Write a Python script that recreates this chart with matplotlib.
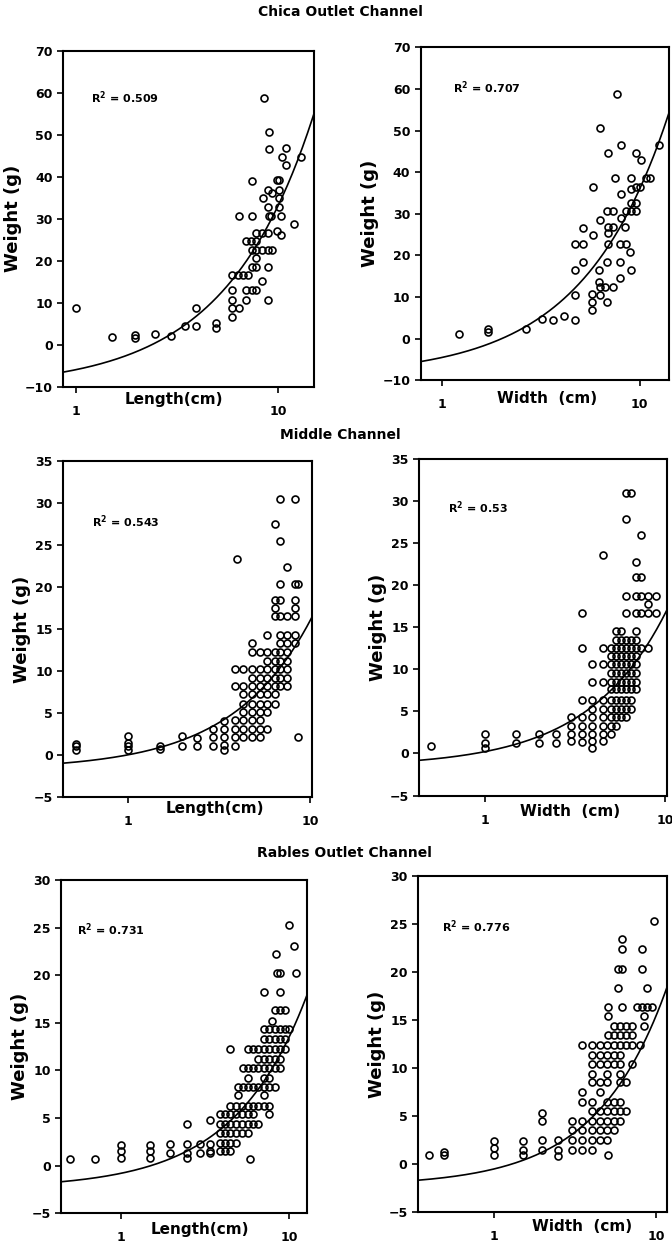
import numpy as np
import matplotlib
matplotlib.use('Agg')
import matplotlib.pyplot as plt
from matplotlib.ticker import NullLocator
from matplotlib import font_manager

#Prefer a narrow bold face, like the scanned figure
names = set(f.name for f in font_manager.fontManager.ttflist)
narrow = [n for n in ['Liberation Sans Narrow', 'DejaVu Sans Condensed'] if n in names]
plt.rcParams['font.family'] = narrow + ['DejaVu Sans']
plt.rcParams['font.weight'] = 'bold'
big = 1.0 if not narrow else 1.12

#Panel titles and labels
row_titles = ['Chica Outlet Channel', 'Middle Channel', 'Rables Outlet Channel']
x_labels = ['Length(cm)', 'Width  (cm)', 'Length(cm)', 'Width  (cm)', 'Length(cm)', 'Width  (cm)']
r2_labels = ['0.509', '0.707', '0.543', '0.53', '0.731', '0.776']

#Linear fit (intercept, slope) of each panel
fit_a = [-10.3, -9.0, -1.78, -1.6, -2.4, -2.3]
fit_b = [4.35, 4.5, 1.78, 1.82, 1.59, 1.78]

#Chica - length
p1_x = [1.0, 1.5, 1.95, 1.95, 2.45, 2.94, 3.44, 3.9, 3.93, 4.93, 4.93,
        5.9, 5.9, 6.4, 5.9, 6.93, 8.87, 5.9, 6.93, 7.42, 7.8, 8.3, 5.9, 6.3, 6.65, 7.05,
        7.42, 7.8, 8.87, 7.8, 7.42, 7.8, 8.3, 8.87, 9.3, 6.93, 7.3, 7.8, 7.8, 8.3, 8.87,
        9.9, 10.3, 11.9, 6.38, 7.42, 8.96, 9.2, 10.3, 8.87, 10.1, 8.4, 8.87, 9.3, 10.1,
        10.1, 7.42, 9.8, 10.1, 10.4, 10.9, 10.9, 13.0, 8.96, 8.96, 8.53]
p1_y = [8.8, 1.9, 1.5, 2.3, 2.6, 2.0, 4.5, 4.5, 8.7, 4.0, 5.2,
        6.7, 8.7, 8.7, 10.7, 10.7, 10.7, 13.1, 13.1, 13.1, 13.1, 15.1, 16.7, 16.7, 16.7, 16.7,
        18.6, 18.6, 18.6, 20.6, 22.6, 22.6, 22.6, 22.6, 22.6, 24.6, 24.6, 24.6, 26.6, 26.6, 26.6,
        27.0, 26.2, 28.8, 30.7, 30.7, 30.7, 30.7, 30.7, 32.9, 32.9, 34.9, 36.9, 36.1, 36.9,
        35.0, 38.9, 39.3, 39.3, 44.8, 46.8, 42.9, 44.7, 46.6, 50.8, 58.7]

#Chica - width
p2_x = [1.22, 1.70, 1.70, 2.66, 3.19, 3.65, 4.13, 4.7,
        4.7, 5.76, 6.3, 5.76, 6.84, 5.76, 6.2, 6.3, 6.7, 7.35, 7.9,
        4.7, 6.22, 9.0, 5.17, 6.84, 7.9, 4.7, 5.17, 6.9, 7.9, 8.5, 8.9,
        5.8, 6.9, 5.17, 6.87, 7.35, 8.4, 6.28, 8.0,
        6.8, 7.3, 8.57, 9.07, 9.6, 9.07, 9.6, 8.0, 9.07, 9.6, 10.0, 5.8,
        7.5, 9.07, 10.8, 11.3, 9.62, 10.1, 6.87, 8.0, 12.5, 6.33, 7.68]
p2_y = [1.2, 1.5, 2.3, 2.3, 4.8, 4.6, 5.4, 4.6,
        10.4, 10.8, 10.4, 8.8, 8.8, 6.8, 13.6, 12.4, 12.4, 12.4, 14.7,
        16.4, 16.4, 16.4, 18.4, 18.4, 18.4, 22.7, 22.7, 22.7, 22.7, 22.7, 20.8,
        24.9, 25.3, 26.7, 26.8, 26.8, 26.8, 28.5, 28.9,
        30.7, 30.7, 30.7, 30.7, 30.7, 32.6, 32.6, 34.7, 35.9, 36.5, 36.5, 36.5,
        38.7, 38.7, 38.7, 38.7, 44.6, 42.9, 44.6, 46.5, 46.5, 50.7, 58.75]

#Middle - length, columns of weights per length
p3_cols = [
    (0.52, [0.6, 1.0, 1.3]),
    (1.0, [0.6, 1.0, 1.4, 2.2]),
    (1.5, [0.7, 1.0]),
    (1.97, [1.1, 2.2]),
    (2.40, [1.0, 2.0]),
    (2.92, [1.06, 2.1, 3.1]),
    (3.38, [0.6, 1.2, 2.1, 3.1, 4.0]),
    (3.87, [1.06, 2.1, 3.1, 4.1, 8.2, 10.2]),
    (3.95, [23.3]),
    (4.30, [2.1, 3.1, 4.1, 5.1, 6.1, 7.2, 8.2, 10.2]),
    (4.77, [2.1, 3.1, 4.1, 5.1, 6.1, 7.2, 8.2, 9.2, 10.2, 12.2, 13.3]),
    (5.31, [2.1, 3.1, 4.1, 5.1, 6.1, 7.2, 8.2, 9.2, 10.2, 12.2]),
    (5.82, [3.1, 5.1, 6.1, 7.2, 8.2, 9.2, 10.2, 11.2, 12.2, 14.3]),
    (6.41, [6.1, 7.2, 8.2, 9.2, 10.2, 11.2, 12.2, 16.5, 17.5, 18.5, 27.5]),
    (6.84, [8.2, 9.2, 10.2, 11.2, 12.2, 13.3, 14.3, 16.5, 18.5, 20.4, 25.5, 30.45]),
    (7.44, [8.2, 9.2, 10.2, 11.2, 12.2, 13.3, 14.3, 16.5, 22.4]),
    (8.25, [13.3, 14.3, 16.5, 17.5, 18.5, 20.4, 30.45]),
    (8.6, [2.1, 20.4]),
]

#Middle - width
p4_cols = [
    (0.50, [0.85]),
    (1.0, [0.65, 1.25, 2.3]),
    (1.49, [1.25, 2.3]),
    (2.0, [1.25, 2.3]),
    (2.46, [1.25, 2.3]),
    (2.98, [1.5, 2.3, 3.3, 4.3]),
    (3.46, [1.3, 2.3, 3.3, 4.3, 6.4, 12.5, 16.7]),
    (3.94, [0.65, 1.5, 2.3, 3.3, 4.3, 5.3, 6.4, 8.5, 10.6]),
    (4.49, [1.5, 2.3, 3.3, 4.3, 5.3, 6.4, 8.5, 10.6, 12.5, 23.6]),
    (4.99, [2.3, 3.3, 4.3, 5.3, 6.4, 7.6, 8.5, 9.6, 10.6, 11.6, 12.5]),
    (5.32, [3.3, 4.3, 5.3, 6.4, 7.6, 8.5, 9.6, 10.6, 11.6, 12.5, 13.5, 14.5]),
    (5.68, [4.3, 5.3, 6.4, 7.6, 8.5, 9.6, 10.6, 11.6, 12.5, 13.5, 14.5]),
    (6.05, [4.3, 5.3, 6.4, 7.6, 8.5, 9.6, 10.6, 11.6, 12.5, 13.5, 16.7, 18.7, 27.8, 30.9]),
    (6.46, [5.3, 6.4, 7.6, 8.5, 9.6, 10.6, 11.6, 12.5, 13.5, 30.9]),
    (6.89, [7.6, 8.5, 9.6, 10.6, 11.6, 12.5, 13.5, 14.5, 16.7, 18.7, 20.9, 22.7]),
    (7.35, [12.5, 16.7, 18.7, 20.9, 25.9]),
    (8.0, [12.5, 16.7, 17.7, 18.7]),
    (8.9, [16.7, 18.7]),
]

#Rables - length
p5_cols = [
    (0.50, [0.7]),
    (0.70, [0.7]),
    (1.0, [0.8, 1.5, 2.2]),
    (1.49, [0.8, 1.5, 2.2]),
    (1.96, [1.3, 2.3]),
    (2.46, [0.8, 1.3, 2.3, 4.4]),
    (2.95, [1.3, 2.3]),
    (3.39, [1.3, 1.5, 2.3, 4.8]),
    (3.88, [1.5, 2.4, 3.4, 4.4, 5.4]),
    (4.16, [1.5, 2.4, 3.4, 4.4, 5.4]),
    (4.45, [1.5, 2.4, 3.4, 4.4, 5.4, 6.3, 12.2]),
    (4.84, [2.4, 3.4, 4.4, 5.4, 6.3]),
    (4.99, [7.4, 8.3]),
    (5.24, [3.4, 4.4, 5.4, 6.3]),
    (5.35, [8.3, 10.2]),
    (5.66, [3.4, 4.4, 5.4, 6.3]),
    (5.72, [8.3, 9.2, 10.2, 12.2]),
    (5.86, [0.7]),
    (6.09, [4.4, 5.4, 6.3]),
    (6.13, [8.3, 10.2, 12.2]),
    (6.56, [4.4, 6.3, 8.3, 10.2, 11.2, 12.2]),
    (7.1, [6.3, 7.4, 8.3, 9.2, 10.2, 11.2, 12.2, 13.3, 14.3, 18.2]),
    (7.63, [5.4, 6.3, 8.3, 9.2, 10.2, 11.2, 12.2, 13.3, 14.3]),
    (7.87, [15.2]),
    (8.25, [8.3, 10.2, 11.2, 12.2, 13.3, 14.3, 16.3]),
    (8.37, [22.2]),
    (8.45, [20.2]),
    (8.84, [10.2, 11.2, 12.2, 13.3, 14.3, 16.3, 18.2, 20.2]),
    (9.47, [12.2, 13.3, 14.3, 16.3]),
    (10.05, [14.3, 25.3]),
    (10.7, [23.1]),
    (11.0, [20.2]),
]

#Rables - width
p6_cols = [
    (0.40, [0.9]),
    (0.49, [0.9, 1.3]),
    (1.0, [0.9, 1.7, 2.4]),
    (1.50, [0.9, 1.5, 2.4]),
    (1.99, [1.5, 2.5, 4.5, 5.3]),
    (2.49, [0.8, 1.5, 2.5]),
    (3.02, [1.5, 2.5, 3.5, 4.5]),
    (3.48, [1.5, 2.5, 3.5, 4.5, 6.5, 7.5, 12.4]),
    (4.01, [1.5, 2.5, 3.5, 4.5, 5.5, 6.5, 8.5, 9.4, 10.4, 11.4, 12.4]),
    (4.51, [2.5, 3.5, 4.5, 5.5, 7.5, 8.5, 10.4, 11.4, 12.4]),
    (4.96, [2.5, 3.5, 4.5, 5.5, 6.5, 8.5, 9.4, 10.4, 11.4, 12.4]),
    (5.07, [0.9, 13.4, 15.4, 16.4]),
    (5.5, [3.5, 4.5, 5.5, 6.5, 10.4, 11.4, 12.4, 13.4, 14.4]),
    (5.8, [18.4, 20.3]),
    (5.99, [4.5, 5.5, 6.5, 8.5, 9.4, 10.4, 11.4, 12.4, 13.4, 14.4]),
    (6.16, [16.4, 20.3, 22.4, 23.5]),
    (6.53, [5.5, 8.5, 12.4, 13.4, 14.4]),
    (7.07, [10.4, 12.4, 13.4, 14.4]),
    (7.6, [16.4]),
    (7.9, [12.4]),
    (8.17, [16.4, 20.3, 22.4]),
    (8.4, [14.4, 15.4]),
    (8.76, [16.4, 18.4]),
    (9.4, [16.4]),
    (9.75, [25.3]),
]


def flatten(cols):
    xs, ys = [], []
    for xv, yl in cols:
        xs += [xv] * len(yl)
        ys += yl
    return xs, ys


p3_x, p3_y = flatten(p3_cols)
p4_x, p4_y = flatten(p4_cols)
p5_x, p5_y = flatten(p5_cols)
p6_x, p6_y = flatten(p6_cols)

xs_all = [p1_x, p2_x, p3_x, p4_x, p5_x, p6_x]
ys_all = [p1_y, p2_y, p3_y, p4_y, p5_y, p6_y]

#Axes geometry and limits
rects = [[0.094, 0.689, 0.373, 0.270], [0.626, 0.694, 0.369, 0.268],
         [0.094, 0.359, 0.370, 0.270], [0.624, 0.360, 0.368, 0.271],
         [0.091, 0.024, 0.366, 0.268], [0.622, 0.025, 0.371, 0.270]]
xlims = [(0.86, 15), (0.78, 14), (0.44, 10.2), (0.43, 10.2), (0.44, 12.8), (0.34, 11.7)]
ylims = [(-10, 70), (-10, 70), (-5, 35), (-5, 35), (-5, 30), (-5, 30)]
ysteps = [10, 10, 5, 5, 5, 5]
xlab_pos = [(0.44, -0.04), (0.51, -0.054), (0.61, -0.035), (0.61, -0.046), (0.565, -0.05), (0.66, -0.042)]
r2_pos = [(0.11, 0.86), (0.13, 0.88), (0.116, 0.82), (0.117, 0.855), (0.064, 0.85), (0.096, 0.85)]

fig = plt.figure(figsize=(6.72, 12.43), dpi=100)

for i in range(6):
    ax = fig.add_axes(rects[i])
    ax.set_xscale('log')

    #fit line
    xf = np.geomspace(xlims[i][0], xlims[i][1], 200)
    ax.plot(xf, fit_a[i] + fit_b[i] * xf, color='black', lw=1.2)

    #data points
    ax.plot(xs_all[i], ys_all[i], 'o', mfc='none', mec='black', ms=5, mew=1.2)

    ax.set_xlim(*xlims[i])
    ax.set_ylim(*ylims[i])
    ax.set_xticks([1, 10])
    ax.set_xticklabels(['1', '10'])
    ax.xaxis.set_minor_locator(NullLocator())
    ax.set_yticks(np.arange(ylims[i][0], ylims[i][1] + 1, ysteps[i]))
    ax.tick_params(direction='out', length=4, width=1.2, labelsize=9 * big)
    ax.tick_params(axis='x', pad=9)
    for s in ax.spines.values():
        s.set_linewidth(1.5)

    ax.set_ylabel('Weight (g)', fontsize=13 * big, fontweight='bold', labelpad=2)
    ax.text(xlab_pos[i][0], xlab_pos[i][1], x_labels[i], transform=ax.transAxes,
            ha='center', va='center', fontsize=11 * big, fontweight='bold')
    ax.text(r2_pos[i][0], r2_pos[i][1], 'R$^2$ = ' + r2_labels[i], transform=ax.transAxes,
            ha='left', va='center', fontsize=8, fontweight='bold')

#Row titles
fig.text(0.506, 0.990, row_titles[0], ha='center', va='center', fontsize=10, fontweight='bold')
fig.text(0.506, 0.650, row_titles[1], ha='center', va='center', fontsize=10, fontweight='bold')
fig.text(0.513, 0.314, row_titles[2], ha='center', va='center', fontsize=10, fontweight='bold')

fig.savefig('out.png', dpi=100)
